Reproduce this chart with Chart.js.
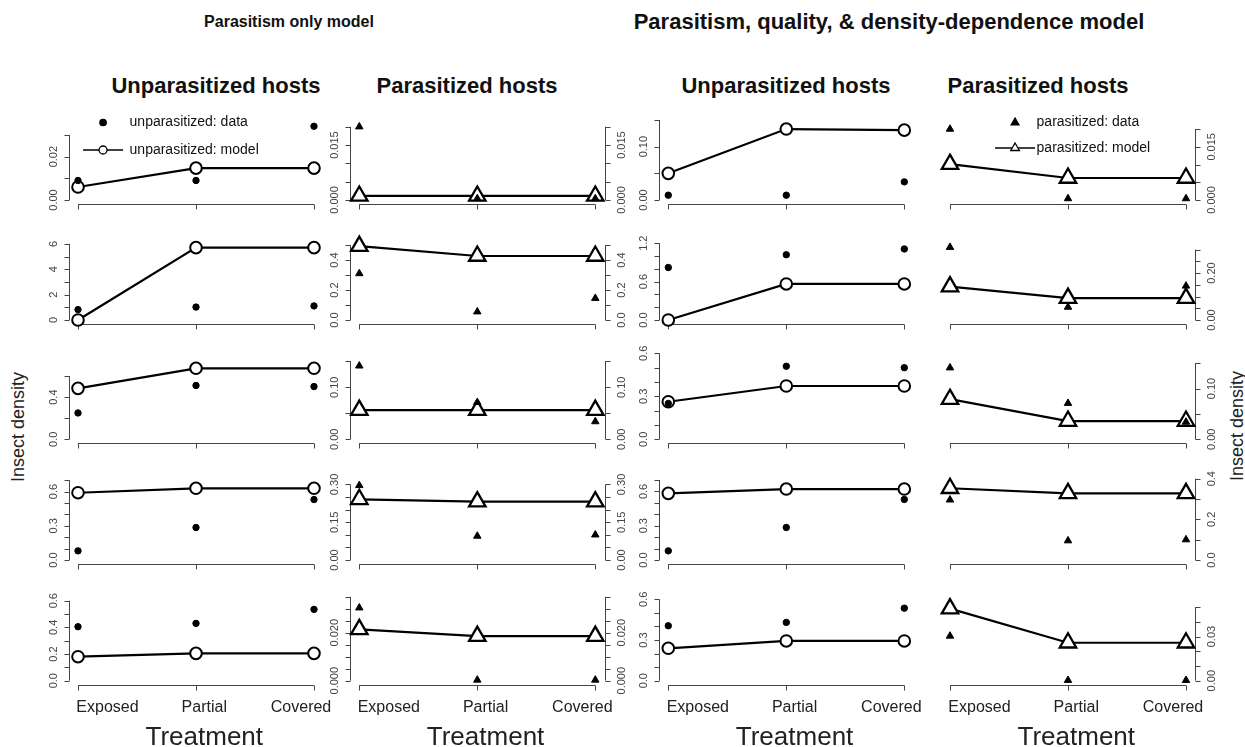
<!DOCTYPE html>
<html>
<head>
<meta charset="utf-8">
<script src="https://cdn.jsdelivr.net/npm/chart.js@4/dist/chart.umd.min.js"></script>
<style>
  body { margin: 0; background: #fff; width: 1245px; height: 747px; position: relative; overflow: hidden; font-family: "Liberation Sans", Arial, sans-serif; }
  canvas { position: absolute; }
  .t { position: absolute; white-space: nowrap; color: #111; transform: translate(-50%, -50%); }
  .v { position: absolute; white-space: nowrap; color: #222; font-size: 18px; transform: translate(-50%, -50%) rotate(-90deg); }
</style>
</head>
<body>
<div class="t" style="left:289px;top:22px;font-weight:bold;font-size:16px">Parasitism only model</div>
<div class="t" style="left:889px;top:22px;font-weight:bold;font-size:22px">Parasitism, quality, &amp; density-dependence model</div>
<div class="t" style="left:216px;top:86px;font-weight:bold;font-size:22px">Unparasitized hosts</div>
<div class="t" style="left:467px;top:86px;font-weight:bold;font-size:22px">Parasitized hosts</div>
<div class="t" style="left:786px;top:86px;font-weight:bold;font-size:22px">Unparasitized hosts</div>
<div class="t" style="left:1038px;top:86px;font-weight:bold;font-size:22px">Parasitized hosts</div>
<div class="v" style="left:18px;top:427px">Insect density</div>
<div class="v" style="left:1237px;top:426px">Insect density</div>

<script>
const categories = ["Exposed", "Partial", "Covered"];

// observed densities, one row per panel row (same data in both models)
const unparData = [
  [0.009, 0.009, 0.034],
  [0.82, 1.02, 1.11],
  [0.25, 0.51, 0.5],
  [0.08, 0.285, 0.53],
  [0.405, 0.43, 0.535]
];
const parData = [
  [0.02, 0.0004, 0.0004],
  [0.31, 0.055, 0.145],
  [0.141, 0.071, 0.034],
  [0.296, 0.095, 0.1],
  [0.0304, 0.0003, 0.0003]
];

// model predictions
const unparModelA = [
  [0.006, 0.0147, 0.0147],
  [0, 5.71, 5.71],
  [0.483, 0.673, 0.673],
  [0.59, 0.629, 0.629],
  [0.18, 0.205, 0.205]
];
const parModelA = [
  [0.0011, 0.0011, 0.0011],
  [0.493, 0.427, 0.427],
  [0.056, 0.056, 0.056],
  [0.241, 0.232, 0.232],
  [0.0214, 0.0186, 0.0186]
];
const unparModelB = [
  [0.05, 0.133, 0.131],
  [0, 0.563, 0.563],
  [0.262, 0.372, 0.372],
  [0.583, 0.621, 0.621],
  [0.239, 0.293, 0.293]
];
const parModelB = [
  [0.0101, 0.0062, 0.0062],
  [0.142, 0.093, 0.093],
  [0.079, 0.036, 0.036],
  [0.353, 0.328, 0.328],
  [0.049, 0.0258, 0.0258]
];

// upper y limit of every panel
const ylimUnparA = [0.0461, 7.89, 0.948, 0.877, 0.75];
const ylimParA = [0.0273, 0.667, 0.192, 0.397, 0.0417];
const ylimUnparB = [0.1875, 1.5625, 0.698, 0.875, 0.7375];
const ylimParB = [0.0282, 0.426, 0.197, 0.492, 0.068];

// tick step, last tick and the tick labels that are printed
const stepUnparA = [0.01, 1, 0.2, 0.1, 0.1];
const lastUnparA = [0.03, 6, 0.6, 0.7, 0.6];
const labUnparA = [["0.00", "0.02"], ["0", "2", "4", "6"], ["0.0", "0.4"], ["0.0", "0.3", "0.6"], ["0.0", "0.2", "0.4", "0.6"]];
const stepParA = [0.005, 0.1, 0.05, 0.05, 0.005];
const lastParA = [0.02, 0.5, 0.15, 0.3, 0.035];
const labParA = [["0.000", "0.015"], ["0.0", "0.2", "0.4"], ["0.00", "0.10"], ["0.00", "0.15", "0.30"], ["0.000", "0.020"]];
const stepUnparB = [0.05, 0.2, 0.1, 0.1, 0.1];
const lastUnparB = [0.15, 1.2, 0.6, 0.7, 0.6];
const labUnparB = [["0.00", "0.10"], ["0.0", "0.6", "1.2"], ["0.0", "0.3", "0.6"], ["0.0", "0.3", "0.6"], ["0.0", "0.3", "0.6"]];
const stepParB = [0.005, 0.05, 0.05, 0.1, 0.01];
const lastParB = [0.02, 0.3, 0.15, 0.4, 0.05];
const labParB = [["0.000", "0.015"], ["0.00", "0.20"], ["0.00", "0.10"], ["0.0", "0.2", "0.4"], ["0.00", "0.03"]];

// layout
const colLeft = [68.56, 349.86, 658.86, 940.56];
const rowZero = [200, 320, 439.3, 560, 680.7];
const areaW = 254.88, areaH = 108;
const xLabelAt = [1.25, 2.07, 2.89];

const cols = [
  { model: unparModelA, data: unparData, shape: "circle", ylim: ylimUnparA, step: stepUnparA, last: lastUnparA, lab: labUnparA, sides: ["left"],
    legend: { kind: "circle", text: ["unparasitized: data", "unparasitized: model"] } },
  { model: parModelA, data: parData, shape: "triangle", ylim: ylimParA, step: stepParA, last: lastParA, lab: labParA, sides: ["left", "right"] },
  { model: unparModelB, data: unparData, shape: "circle", ylim: ylimUnparB, step: stepUnparB, last: lastUnparB, lab: labUnparB, sides: ["left"] },
  { model: parModelB, data: parData, shape: "triangle", ylim: ylimParB, step: stepParB, last: lastParB, lab: labParB, sides: ["right"],
    legend: { kind: "triangle", text: ["parasitized: data", "parasitized: model"] } }
];

function line(ctx, x1, y1, x2, y2) {
  ctx.beginPath();
  ctx.moveTo(x1, y1);
  ctx.lineTo(x2, y2);
  ctx.stroke();
}

function mark(ctx, kind, x, y, r, filled) {
  ctx.beginPath();
  if (kind === "circle") {
    ctx.arc(x, y, r, 0, Math.PI * 2);
  } else {
    ctx.moveTo(x, y - r);
    ctx.lineTo(x + r * 0.866, y + r / 2);
    ctx.lineTo(x - r * 0.866, y + r / 2);
    ctx.closePath();
  }
  ctx.fillStyle = filled ? "#000" : "#fff";
  ctx.fill();
  ctx.stroke();
}

// base R style axes: lines only from first to last tick, rotated labels
const rAxes = {
  id: "rAxes",
  beforeDatasetsDraw(chart, args, o) {
    const ctx = chart.ctx, a = chart.chartArea;
    const ys = chart.scales.y, xs = chart.scales.x;
    ctx.save();
    ctx.strokeStyle = "#444";
    ctx.lineWidth = 1;
    const ticks = [];
    for (let k = 0; k * o.step <= o.last + o.step / 10; k++) ticks.push(k * o.step);
    o.sides.forEach(side => {
      const x = Math.round(side === "left" ? a.left : a.right) + 0.5;
      const dir = side === "left" ? -1 : 1;
      line(ctx, x, ys.getPixelForValue(0), x, ys.getPixelForValue(ticks[ticks.length - 1]));
      ticks.forEach(v => {
        const y = Math.round(ys.getPixelForValue(v)) + 0.5;
        line(ctx, x, y, x + dir * 5, y);
      });
      ctx.fillStyle = "#444";
      ctx.font = '11px "Liberation Sans", Arial, sans-serif';
      ctx.textAlign = "center";
      ctx.textBaseline = "middle";
      o.labels.forEach(l => {
        ctx.save();
        ctx.translate(x + dir * 16, ys.getPixelForValue(parseFloat(l)));
        ctx.rotate(-Math.PI / 2);
        ctx.fillText(l, 0, 0);
        ctx.restore();
      });
    });
    const yb = Math.round(a.bottom) + 0.5;
    line(ctx, xs.getPixelForValue(1), yb, xs.getPixelForValue(3), yb);
    [1, 2, 3].forEach(v => {
      const x = Math.round(xs.getPixelForValue(v)) + 0.5;
      line(ctx, x, yb, x, yb + 5);
    });
    if (o.bottom) {
      ctx.fillStyle = "#222";
      ctx.textAlign = "center";
      ctx.textBaseline = "middle";
      ctx.font = '16px "Liberation Sans", Arial, sans-serif';
      categories.forEach((c, i) => ctx.fillText(c, xs.getPixelForValue(xLabelAt[i]), yb + 22));
      ctx.font = '26px "Liberation Sans", Arial, sans-serif';
      ctx.fillText("Treatment", xs.getPixelForValue(xLabelAt[1]), yb + 52);
    }
    ctx.restore();
  },
  afterDatasetsDraw(chart, args, o) {
    if (!o.legend) return;
    const ctx = chart.ctx, g = o.legend;
    const lx = chart.chartArea.left, ly = chart.chartArea.top;
    const big = g.kind === "circle";
    ctx.save();
    ctx.strokeStyle = "#000";
    ctx.lineWidth = 1.3;
    const sx = big ? lx + 34.5 : lx + 74.5;
    const tx = big ? lx + 61 : lx + 96;
    const y1 = ly + 26.5, y2 = ly + (big ? 54 : 52);
    mark(ctx, g.kind, sx, y1, big ? 3.2 : 4.5, true);
    line(ctx, sx - 20, y2, sx + 20, y2);
    mark(ctx, g.kind, sx, y2, big ? 4 : 5, false);
    ctx.fillStyle = "#111";
    ctx.font = '14px "Liberation Sans", Arial, sans-serif';
    ctx.textAlign = "left";
    ctx.textBaseline = "middle";
    ctx.fillText(g.text[0], tx, y1);
    ctx.fillText(g.text[1], tx, y2);
    ctx.restore();
  }
};

function makePanel(c, ci, ri) {
  const r = c.ylim[ri];
  const areaLeft = colLeft[ci];
  const areaTop = rowZero[ri] - 104;
  const cw = 360, ch = 200;
  const cl = Math.floor(areaLeft) - 50;
  const ct = Math.floor(areaTop) - 20;
  const cv = document.createElement("canvas");
  cv.width = cw;
  cv.height = ch;
  cv.style.left = cl + "px";
  cv.style.top = ct + "px";
  document.body.appendChild(cv);
  const circle = c.shape === "circle";
  new Chart(cv.getContext("2d"), {
    type: "scatter",
    data: {
      datasets: [
        {
          data: c.data[ri].map((v, i) => ({ x: i + 1, y: v })),
          showLine: false,
          pointStyle: c.shape,
          pointRadius: circle ? 3.2 : 4.3,
          backgroundColor: "#000",
          borderColor: "#000",
          borderWidth: 1,
          clip: false
        },
        {
          data: c.model[ri].map((v, i) => ({ x: i + 1, y: v })),
          showLine: true,
          borderColor: "#000",
          borderWidth: 2.2,
          pointStyle: c.shape,
          pointRadius: circle ? 5.8 : 9.5,
          pointBackgroundColor: "#fff",
          pointBorderColor: "#000",
          pointBorderWidth: circle ? 2 : 2.3,
          clip: false
        }
      ]
    },
    options: {
      responsive: false,
      animation: false,
      devicePixelRatio: 1,
      layout: {
        padding: {
          left: areaLeft - cl,
          top: areaTop - ct,
          right: cw - (areaLeft - cl) - areaW,
          bottom: ch - (areaTop - ct) - areaH
        }
      },
      scales: {
        x: { type: "linear", display: false, min: 0.92, max: 3.08 },
        y: { type: "linear", display: false, min: -0.04 * r, max: 1.04 * r }
      },
      plugins: {
        legend: { display: false },
        tooltip: { enabled: false },
        rAxes: {
          step: c.step[ri],
          last: c.last[ri],
          labels: c.lab[ri],
          sides: c.sides,
          bottom: ri === 4,
          legend: ri === 0 ? c.legend : null
        }
      }
    },
    plugins: [rAxes]
  });
}

cols.forEach((c, ci) => rowZero.forEach((z, ri) => makePanel(c, ci, ri)));
</script>
</body>
</html>
